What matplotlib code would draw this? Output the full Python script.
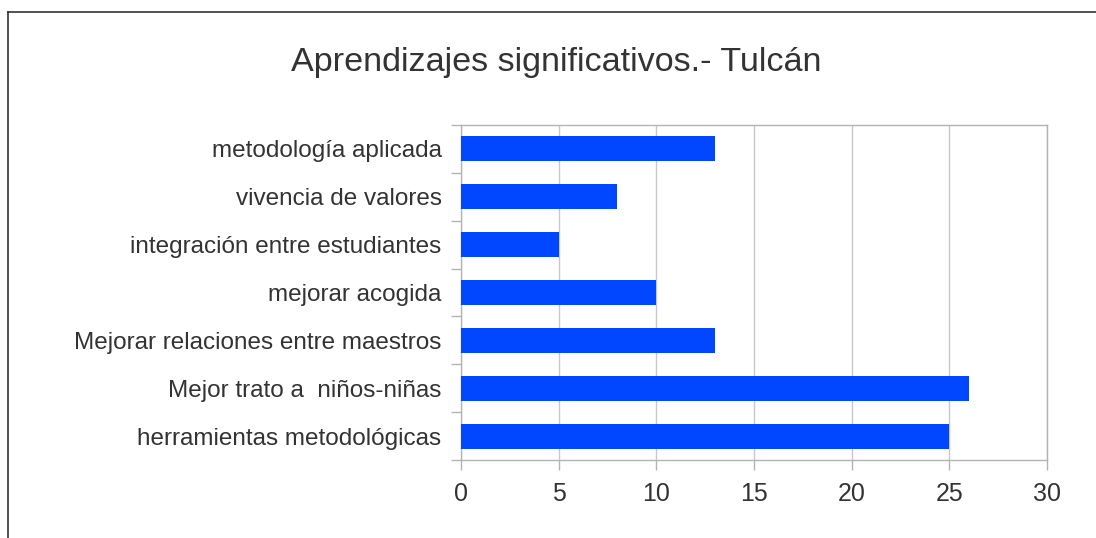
import matplotlib
matplotlib.use("Agg")
import matplotlib.pyplot as plt
from matplotlib.ticker import FixedLocator
from matplotlib.lines import Line2D

categories = [
    "metodología aplicada",
    "vivencia de valores",
    "integración entre estudiantes",
    "mejorar acogida",
    "Mejorar relaciones entre maestros",
    "Mejor trato a  niños-niñas",
    "herramientas metodológicas",
]
values = [13, 8, 5, 10, 13, 26, 25]
x_ticks = [0, 5, 10, 15, 20, 25, 30]
title = "Aprendizajes significativos.- Tulcán"

plt.rcParams['font.family'] = ['Liberation Sans', 'DejaVu Sans']
text_color = "#333333"

fig = plt.figure(figsize=(10.96, 5.38), dpi=100)
ax = fig.add_axes([461/1096, 1-460/538, (1047-461)/1096, (460-125)/538])

n = len(categories)
ypos = list(range(n))
ax.barh(ypos, values, height=0.52, color="#0047FF", zorder=3)
ax.set_ylim(n - 0.5, -0.5)
ax.set_xlim(0, 30)
ax.set_xticks(x_ticks)
ax.set_xticklabels([str(t) for t in x_ticks])
ax.set_yticks(ypos)
ax.set_yticklabels(categories)
ax.yaxis.set_minor_locator(FixedLocator([i - 0.5 for i in range(n + 1)]))

ax.tick_params(axis='y', which='major', length=0, pad=14, labelsize=17.5, labelcolor=text_color)
ax.tick_params(axis='y', which='minor', length=7.5, width=1, color="#b3b3b3")
ax.tick_params(axis='x', which='major', length=7.5, width=1, color="#b3b3b3", pad=8,
               labelsize=18, labelcolor=text_color)

ax.grid(axis='x', color="#c8c8c8", linewidth=1, zorder=0)
for s in ax.spines.values():
    s.set_color("#b3b3b3")
    s.set_linewidth(1)

fig.text(556/1096, 1-62/538, title, ha='center', va='center', fontsize=24.6, color=text_color)

# outer frame (top and left edges)
fig.add_artist(Line2D([8/1096, 1.0], [1-12/538, 1-12/538], transform=fig.transFigure,
                      color="#333333", linewidth=1.2))
fig.add_artist(Line2D([8/1096, 8/1096], [0, 1-12/538], transform=fig.transFigure,
                      color="#333333", linewidth=1.2))

fig.savefig("out.png", dpi=100)
